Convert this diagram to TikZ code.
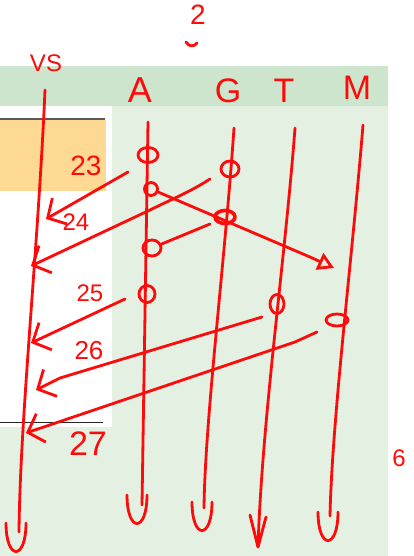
\documentclass[tikz,border=0pt]{standalone}
\usepackage{fontspec}
\setmainfont{Liberation Sans}
\usetikzlibrary{arrows.meta,shapes.geometric}
\definecolor{hdr}{HTML}{CDE5CC}
\definecolor{bodyg}{HTML}{E3F0E2}
\definecolor{orng}{HTML}{FDD993}
\definecolor{ink}{HTML}{FF0A0A}
\begin{document}
\begin{tikzpicture}[x=1pt,y=-1pt,
  inkline/.style={draw=ink,line width=2.8pt,line cap=round,line join=round},
  act/.style={inkline,ellipse,inner sep=0pt,minimum width=18pt,minimum height=14pt},
  lbl/.style={text=ink,inner sep=0pt},
  msg/.style={inkline,-{Straight Barb[length=14pt,width=30pt]}},
  life/.style={inkline},
  ubarb/.pic={\draw[inkline] (-10,-29) .. controls (-10,9) and (10,9) .. (10,-29);},
  vbarb/.pic={\draw[inkline] (-8,-32) -- (0,0) -- (8,-30);}]
\useasboundingbox (0,0) rectangle (413,556);
% background
\fill[bodyg] (0,106) rectangle (388,556);
\fill[hdr] (0,66) rectangle (388,106);
\fill[white] (0,106) rectangle (112,427);
\fill[orng] (0,120) rectangle (106,191);
\draw[black!65,line width=1.5pt] (0,119) -- (105,119);
\draw[black!85,line width=0.8pt] (0,422) -- (103,422);
% headers
\node[lbl,font=\fontsize{24}{24}\selectfont] (vs) at (46,63) {VS};
\node[lbl,font=\fontsize{28}{28}\selectfont] (two) at (198,15) {2};
\draw[inkline] (186,42) .. controls (189,47) and (194,47) .. (197,43);
\node[lbl,font=\fontsize{36}{36}\selectfont] (hA) at (140,90) {A};
\node[lbl,font=\fontsize{34}{34}\selectfont] (hG) at (228,91) {G};
\node[lbl,font=\fontsize{34}{34}\selectfont] (hT) at (284,91) {T};
\node[lbl,font=\fontsize{34}{34}\selectfont] (hM) at (357,88) {M};
% lifelines
\coordinate (vsT) at (45,90);  \coordinate (vsB) at (19,532); \coordinate (vsU) at (16,552);
\coordinate (aT) at (148,122); \coordinate (aB) at (142,505); \coordinate (aU) at (137,524);
\coordinate (gT) at (234,128); \coordinate (gB) at (204,508); \coordinate (gU) at (202,531);
\coordinate (tT) at (295,128); \coordinate (tB) at (258,547); \coordinate (tU) at (258,547);
\coordinate (mT) at (363,125); \coordinate (mB) at (330,516); \coordinate (mU) at (328,541);
\draw[life] (vsT) .. controls (38,250) and (20,420) .. (vsB);
\draw[life] (aT) -- (aB);
\draw[life] (gT) .. controls (225,260) and (205,420) .. (gB);
\draw[life] (tT) .. controls (285,260) and (262,420) .. (tB);
\draw[life] (mT) .. controls (352,260) and (332,420) .. (mB);
\pic at (vsU) {ubarb};
\pic at (aU) {ubarb};
\pic at (gU) {ubarb};
\pic at (tU) {vbarb};
\pic at (mU) {ubarb};
% activation marks
\node[act,minimum width=20pt,minimum height=15pt] (c1) at (148,155) {};
\node[act,minimum width=13pt,minimum height=13pt] (c2) at (151,189) {};
\node[act,minimum width=18pt,minimum height=16pt] (c3) at (230,169) {};
\node[act,minimum width=20pt,minimum height=13pt,line width=3.6pt] (c4) at (225,217) {};
\node[act,minimum width=18pt,minimum height=16pt] (c5) at (152,248) {};
\node[act,minimum width=16pt,minimum height=17pt] (c6) at (147,294) {};
\node[act,minimum width=14pt,minimum height=19pt] (c7) at (277,304) {};
\node[act,minimum width=22pt,minimum height=12pt] (c8) at (337,320) {};
% message end points
\coordinate (s1) at (128,172); \coordinate (e1) at (46,219);
\coordinate (s2) at (210,179); \coordinate (e2) at (31,266);
\coordinate (e3) at (334,268);
\coordinate (s4) at (210,224);
\coordinate (s5) at (125,299); \coordinate (e5) at (31,343);
\coordinate (s6) at (262,317); \coordinate (e6) at (36,390);
\coordinate (s7) at (317,332); \coordinate (e7) at (26,433);
% messages
\draw[msg] (s1) -- (e1);
\draw[msg] (s2) .. controls (190,192) and (170,200) .. (150,210) -- (e2);
\draw[inkline,-{Triangle[open,length=16pt,width=18pt]}] (c2) -- (310,257) -- (e3);
\draw[inkline] (s4) -- (c5);
\draw[msg] (s5) -- (e5);
\draw[msg] (s6) -- (60,378) -- (e6);
\draw[msg] (s7) -- (295,342) -- (e7);
% message labels
\node[lbl,font=\fontsize{28}{28}\selectfont] (l23) at (86,166) {23};
\node[lbl,font=\fontsize{24}{24}\selectfont] (l24) at (76,222) {24};
\node[lbl,font=\fontsize{24}{24}\selectfont] (l25) at (90,293) {25};
\node[lbl,font=\fontsize{26}{26}\selectfont] (l26) at (89,351) {26};
\node[lbl,font=\fontsize{34}{34}\selectfont] (l27) at (88,444) {27};
\node[lbl,font=\fontsize{24}{24}\selectfont] (l6) at (399,458) {6};
\end{tikzpicture}
\end{document}
